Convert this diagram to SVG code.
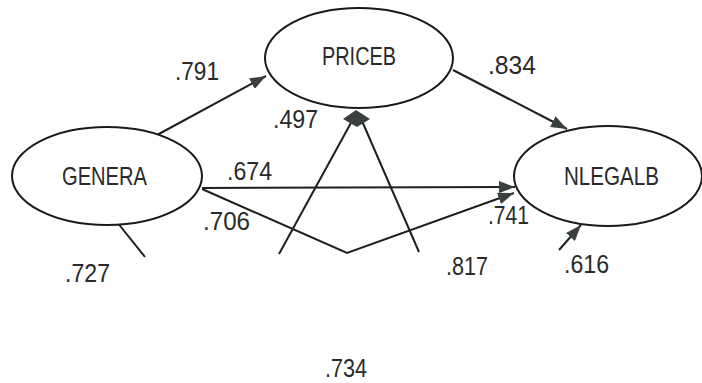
<svg xmlns="http://www.w3.org/2000/svg" width="702" height="383" viewBox="0 0 702 383">
<style>
.node ellipse{fill:#fff;stroke:#1a1a1a;stroke-width:2}
.node text{font-family:"Liberation Sans",Arial,sans-serif;font-size:25px;fill:#2a2a2a}
.lbl{font-family:"Liberation Sans",Arial,sans-serif;font-size:25px;fill:#2a2a2a}
.edge{fill:none;stroke:#1f1f1f;stroke-width:2}
</style>
<defs>
<marker id="ah" viewBox="0 0 16 12" refX="16" refY="6" markerWidth="16" markerHeight="12" markerUnits="userSpaceOnUse" orient="auto">
<path d="M0,0 L16,6 L0,12 z" fill="#3a4040"/>
</marker>
</defs>
<rect width="702" height="383" fill="#fff"/>
<g id="connectors">
<line class="edge" x1="157" y1="135" x2="266" y2="76" marker-end="url(#ah)"/>
<line class="edge" x1="453" y1="70" x2="567" y2="129" marker-end="url(#ah)"/>
<line class="edge" x1="202" y1="188" x2="515" y2="187" marker-end="url(#ah)"/>
<polyline class="edge" points="202,189 347,253 514,193" marker-end="url(#ah)"/>
<line class="edge" x1="559" y1="250" x2="581" y2="225" marker-end="url(#ah)"/>
<line class="edge" x1="117" y1="222" x2="145" y2="257"/>
<line class="edge" x1="279" y1="254" x2="352" y2="121"/>
<line class="edge" x1="419" y1="252" x2="362" y2="121"/>
<polygon points="356,110 370,119 357,127 343,119" fill="#3a4040"/>
</g>
<g id="GENERA" class="node">
<ellipse cx="107" cy="176" rx="95" ry="49"/>
<text x="62" y="185" textLength="85" lengthAdjust="spacingAndGlyphs">GENERA</text>
</g>
<g id="PRICEB" class="node">
<ellipse cx="359" cy="58" rx="94" ry="50"/>
<text x="322" y="65" textLength="74" lengthAdjust="spacingAndGlyphs">PRICEB</text>
</g>
<g id="NLEGALB" class="node">
<ellipse cx="608" cy="176" rx="94" ry="50"/>
<text x="564" y="185" textLength="95" lengthAdjust="spacingAndGlyphs">NLEGALB</text>
</g>
<g id="labels">
<text class="lbl" x="175" y="80" textLength="44" lengthAdjust="spacingAndGlyphs">.791</text>
<text class="lbl" x="488" y="74" textLength="48" lengthAdjust="spacingAndGlyphs">.834</text>
<text class="lbl" x="273" y="128" textLength="45" lengthAdjust="spacingAndGlyphs">.497</text>
<text class="lbl" x="227" y="180" textLength="45" lengthAdjust="spacingAndGlyphs">.674</text>
<text class="lbl" x="203" y="230" textLength="47" lengthAdjust="spacingAndGlyphs">.706</text>
<text class="lbl" x="65" y="282" textLength="45" lengthAdjust="spacingAndGlyphs">.727</text>
<text class="lbl" x="488" y="224" textLength="41" lengthAdjust="spacingAndGlyphs">.741</text>
<text class="lbl" x="446" y="275" textLength="42" lengthAdjust="spacingAndGlyphs">.817</text>
<text class="lbl" x="564" y="273" textLength="45" lengthAdjust="spacingAndGlyphs">.616</text>
<text class="lbl" x="325" y="377" textLength="42" lengthAdjust="spacingAndGlyphs">.734</text>
</g>
</svg>
